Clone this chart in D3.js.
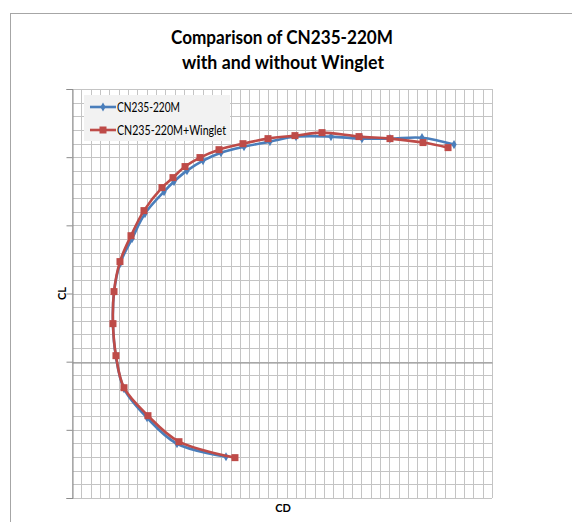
<!DOCTYPE html>
<html><head><meta charset="utf-8">
<script src="https://cdn.jsdelivr.net/npm/d3@7"></script>
<style>html,body{margin:0;padding:0;background:#fff;}svg{display:block;}</style>
</head><body>
<svg id="chart" width="572" height="522"></svg>
<script>
// Data (CD, CL)
const seriesNames = ["CN235-220M", "CN235-220M+Winglet"];
const cdBase = [0.165,0.1125,0.0804,0.0557,0.0471,0.0439,0.0450,0.0514,0.0643,0.0782,0.0986,0.1093,0.1232,0.1404,0.1596,0.1843,0.2121,0.2400,0.2775,0.3107,0.3407,0.3750,0.4093];
const clBase = [-0.697,-0.602,-0.411,-0.198,0.037,0.271,0.506,0.719,0.902,1.086,1.247,1.321,1.401,1.475,1.533,1.577,1.614,1.651,1.651,1.636,1.636,1.643,1.592];
const cdWing = [0.1746,0.1146,0.0814,0.0557,0.0471,0.0439,0.0450,0.0514,0.0632,0.0771,0.0964,0.1082,0.1211,0.1371,0.1575,0.1832,0.2100,0.2389,0.2679,0.3075,0.3407,0.3761,0.4029];
const clWing = [-0.704,-0.587,-0.396,-0.191,0.044,0.279,0.514,0.734,0.924,1.108,1.277,1.350,1.431,1.497,1.555,1.599,1.636,1.658,1.680,1.651,1.636,1.607,1.570];
const xMinorTicks = d3.range(0, 0.4501, 0.01);
const yMinorTicks = d3.range(-1, 2.001, 0.1);
const yMajorTicks = [-1, -0.5, 0, 0.5, 1, 1.5, 2];
const titleLines = ["Comparison of CN235-220M", "with and without Winglet"];

const svg = d3.select("#chart");
const font = "Lato, 'Open Sans', sans-serif";
const L = 72, R = 492, T = 89, B = 498;
const x = d3.scaleLinear().domain([0, 0.45]).range([L, R]);
const y = d3.scaleLinear().domain([-1, 2]).range([B, T]);

// outer chart frame
svg.append("rect").attr("x", 10.5).attr("y", 13.5).attr("width", 700).attr("height", 700)
  .attr("fill", "#fff").attr("stroke", "#a6a6a6").attr("stroke-width", 1);

// title
const title = svg.append("text").attr("text-anchor", "middle").attr("font-family", font)
  .attr("font-weight", "bold").attr("font-size", 19).attr("fill", "#000");
title.append("tspan").attr("x", 282).attr("y", 44).attr("textLength", 222)
  .attr("lengthAdjust", "spacingAndGlyphs").text(titleLines[0]);
title.append("tspan").attr("x", 283).attr("y", 69).attr("textLength", 202)
  .attr("lengthAdjust", "spacingAndGlyphs").text(titleLines[1]);

// grid
const g = svg.append("g");
g.selectAll("line.vx").data(xMinorTicks).join("line")
  .attr("x1", d => Math.round(x(d)) + 0.5).attr("x2", d => Math.round(x(d)) + 0.5)
  .attr("y1", T).attr("y2", B).attr("stroke", "#c4c4c4").attr("stroke-width", 1);
g.selectAll("line.hy").data(yMinorTicks).join("line")
  .attr("y1", d => Math.round(y(d)) + 0.5).attr("y2", d => Math.round(y(d)) + 0.5)
  .attr("x1", L).attr("x2", R).attr("stroke", "#c4c4c4").attr("stroke-width", 1);

// axes (no tick labels)
const yAxis = d3.axisLeft(y).tickValues(yMajorTicks).tickSize(6).tickFormat("");
const ay = svg.append("g").attr("transform", `translate(${L + 0.5},0)`).call(yAxis);
ay.selectAll("path,line").attr("stroke", "#8c8c8c");
const xAxis = d3.axisBottom(x).tickValues([]).tickSizeOuter(0).tickFormat("");
const ax = svg.append("g").attr("transform", `translate(0,${Math.round(y(0)) + 0.5})`).call(xAxis);
ax.selectAll("path,line").attr("stroke", "#8c8c8c");

// axis titles
svg.append("text").attr("transform", `translate(66,${(T + B) / 2}) rotate(-90)`)
  .attr("text-anchor", "middle").attr("font-family", font).attr("font-weight", "bold")
  .attr("font-size", 11).text("CL");
svg.append("text").attr("x", (L + R) / 2 + 1).attr("y", 512)
  .attr("text-anchor", "middle").attr("font-family", font).attr("font-weight", "bold")
  .attr("font-size", 11).text("CD");

// series
const colors = ["#4a7ebb", "#be4b48"];
const dataBase = cdBase.map((d, i) => [d, clBase[i]]);
const dataWing = cdWing.map((d, i) => [d, clWing[i]]);
const line = d3.line().x(d => x(d[0])).y(d => y(d[1])).curve(d3.curveCatmullRom.alpha(0.5));

svg.append("path").datum(dataBase).attr("d", line).attr("fill", "none")
  .attr("stroke", colors[0]).attr("stroke-width", 2.6);
svg.append("g").selectAll("path").data(dataBase).join("path")
  .attr("d", d3.symbol(d3.symbolDiamond, 24))
  .attr("transform", d => `translate(${x(d[0])},${y(d[1])})`).attr("fill", colors[0]);

svg.append("path").datum(dataWing).attr("d", line).attr("fill", "none")
  .attr("stroke", colors[1]).attr("stroke-width", 2.6);
svg.append("g").selectAll("rect").data(dataWing).join("rect")
  .attr("x", d => x(d[0]) - 3.5).attr("y", d => y(d[1]) - 3.5)
  .attr("width", 7).attr("height", 7).attr("fill", colors[1]);

// legend
const lg = svg.append("g");
lg.append("rect").attr("x", 84).attr("y", 95).attr("width", 146).attr("height", 46).attr("fill", "#f2f2f2");
const ly = [107, 130];
const lw = [63, 109];
seriesNames.forEach((name, i) => {
  lg.append("line").attr("x1", 90).attr("x2", 116).attr("y1", ly[i]).attr("y2", ly[i])
    .attr("stroke", colors[i]).attr("stroke-width", 2.6);
  if (i === 0) {
    lg.append("path").attr("d", d3.symbol(d3.symbolDiamond, 24)).attr("transform", `translate(103,${ly[i]})`).attr("fill", colors[i]);
  } else {
    lg.append("rect").attr("x", 99.5).attr("y", ly[i] - 3.5).attr("width", 7).attr("height", 7).attr("fill", colors[i]);
  }
  lg.append("text").attr("x", 117).attr("y", ly[i] + 4.5).attr("font-family", font)
    .attr("font-size", 13).attr("textLength", lw[i]).attr("lengthAdjust", "spacingAndGlyphs")
    .attr("fill", "#000").text(name);
});
</script>
</body></html>
